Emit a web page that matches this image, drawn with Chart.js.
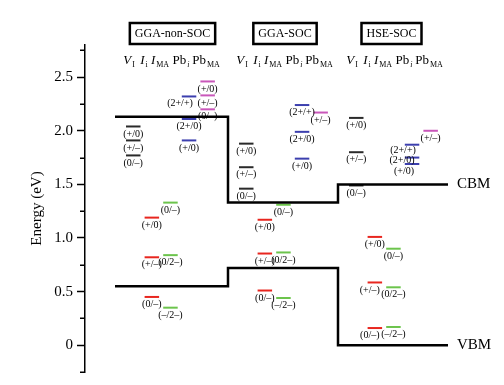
<!DOCTYPE html>
<html>
<head>
<meta charset="utf-8">
<script src="https://cdn.jsdelivr.net/npm/chart.js@4.4.1/dist/chart.umd.min.js"></script>
<style>
  html, body { margin: 0; padding: 0; background: #fff; }
</style>
</head>
<body>
<canvas id="grafica_niveles" width="504" height="385"></canvas>
<script>
const paneles = ['GGA-non-SOC', 'GGA-SOC', 'HSE-SOC'];
const cbm = [2.13, 1.33, 1.50];
const vbm = [0.55, 0.72, 0.00];
const ticksEnergia = [0, 0.5, 1.0, 1.5, 2.0, 2.5];

// niveles de transicion (eV), una lista por panel
const nivelesVI   = [[2.04, 1.91, 1.77], [1.88, 1.66, 1.46], [2.12, 1.80, 1.49]];
const nivelesIi   = [[1.19, 0.82, 0.45], [1.17, 0.855, 0.51], [1.01, 0.585, 0.16]];
const nivelesIMA  = [[1.33, 0.84, 0.35], [1.31, 0.865, 0.44], [0.90, 0.54, 0.17]];
const nivelesPbi  = [[2.32, 2.11, 1.91], [2.24, 1.99, 1.74], [1.87, 1.75, 1.69]];
const nivelesPbMA = [[2.46, 2.33, 2.20], [2.17], [2.00]];

const etiquetasVI   = ['(+/0)', '(+/–)', '(0/–)'];
const etiquetasIi   = ['(+/0)', '(+/–)', '(0/–)'];
const etiquetasIMA  = ['(0/–)', '(0/2–)', '(–/2–)'];
const etiquetasPbi  = ['(2+/+)', '(2+/0)', '(+/0)'];
const etiquetasPbMA = [['(+/0)', '(+/–)', '(0/–)'], ['(+/–)'], ['(+/–)']];

// cabeceras: [principal, subindice, principal cursiva, subindice cursiva]
const defectos = [['V', 'I', true, false], ['I', 'i', true, false], ['I', 'MA', true, false],
                  ['Pb', 'i', false, true], ['Pb', 'MA', false, false]];

// ---- layout (unidades de panel) ----
const UNIDAD = 111;
const bordesPanel = [0, 1.018, 2.009, 3.0];
const colores = ['#2a2a2a', '#e8261f', '#6cc44c', '#3c3fae', '#c957ba'];
const SERIF = '"Liberation Serif", "DejaVu Serif", serif';
const ajustes = {
  '0-3-0': [-9, 7],
  '2-3-0': [-9, 6], '2-3-1': [-10, 2.5], '2-3-2': [-8, 7],
  '2-1-1': [-5, 7.5], '2-1-2': [-5, 7.5]
};

function inicioColumna(p, d) { return bordesPanel[p] + (11 + 18.6 * d) / UNIDAD; }
function centroColumna(p, d) { return inicioColumna(p, d) + 7.2 / UNIDAD; }
function centroCabecera(p, d) { return bordesPanel[p] + [14, 29, 45, 66, 91][d] / UNIDAD; }

const todosNiveles = [nivelesVI, nivelesIi, nivelesIMA, nivelesPbi, nivelesPbMA];
function etiquetasDe(d, p) {
  return [etiquetasVI, etiquetasIi, etiquetasIMA, etiquetasPbi][d] || etiquetasPbMA[p];
}

const datasets = [];
function escalon(valores) {
  const pts = [];
  valores.forEach((v, p) => {
    pts.push({ x: bordesPanel[p], y: v });
    pts.push({ x: bordesPanel[p + 1], y: v });
  });
  return pts;
}
datasets.push({ data: escalon(cbm), borderColor: '#000', borderWidth: 2.5 });
datasets.push({ data: escalon(vbm), borderColor: '#000', borderWidth: 2.5 });

todosNiveles.forEach((niv, d) => {
  niv.forEach((lista, p) => {
    lista.forEach((e) => {
      const x0 = inicioColumna(p, d);
      datasets.push({
        data: [{ x: x0, y: e }, { x: x0 + 14.5 / UNIDAD, y: e }],
        borderColor: colores[d],
        borderWidth: 2
      });
    });
  });
});

const pluginTextos = {
  id: 'textos',
  afterDraw(chart) {
    const ctx = chart.ctx;
    const xs = chart.scales.x, ys = chart.scales.y;
    ctx.save();

    // ticks menores
    ctx.strokeStyle = '#000';
    ctx.lineWidth = 1.5;
    for (let v = -0.25; v < 2.8; v += 0.5) {
      const py = Math.round(ys.getPixelForValue(v)) + 0.25;
      ctx.beginPath();
      ctx.moveTo(ys.right - 5, py);
      ctx.lineTo(ys.right, py);
      ctx.stroke();
    }

    // etiquetas de niveles
    ctx.fillStyle = '#000';
    ctx.font = '10px ' + SERIF;
    ctx.textAlign = 'center';
    ctx.textBaseline = 'middle';
    todosNiveles.forEach((niv, d) => {
      niv.forEach((lista, p) => {
        const etq = etiquetasDe(d, p);
        lista.forEach((e, k) => {
          const aj = ajustes[p + '-' + d + '-' + k] || [0, 7.5];
          const px = xs.getPixelForValue(centroColumna(p, d)) + aj[0];
          const py = ys.getPixelForValue(e) + aj[1];
          ctx.fillText(etq[k], px, py);
        });
      });
    });

    // titulos de panel con recuadro
    ctx.font = '12px ' + SERIF;
    paneles.forEach((t, p) => {
      const cx = xs.getPixelForValue(bordesPanel[p] + [57.5, 57, 53.5][p] / UNIDAD);
      const w = ctx.measureText(t).width + 10;
      ctx.lineWidth = 2.5;
      ctx.strokeRect(cx - w / 2, 23, w, 21);
      ctx.fillText(t, cx, 34);
    });

    // cabeceras de defectos
    ctx.textAlign = 'left';
    ctx.textBaseline = 'alphabetic';
    paneles.forEach((t, p) => {
      defectos.forEach((df, d) => {
        const fPrin = (df[2] ? 'italic ' : '') + '13px ' + SERIF;
        const fSub = (df[3] ? 'italic ' : '') + '8px ' + SERIF;
        ctx.font = fPrin;
        const w1 = ctx.measureText(df[0]).width;
        ctx.font = fSub;
        const w2 = ctx.measureText(df[1]).width;
        const x0 = xs.getPixelForValue(centroCabecera(p, d)) - (w1 + w2 + 1) / 2;
        ctx.font = fPrin;
        ctx.fillText(df[0], x0, 64);
        ctx.font = fSub;
        ctx.fillText(df[1], x0 + w1 + 1, 67);
      });
    });

    // CBM / VBM
    ctx.font = '15px ' + SERIF;
    ctx.textBaseline = 'middle';
    const xf = xs.getPixelForValue(bordesPanel[3]) + 9;
    ctx.fillText('CBM', xf, ys.getPixelForValue(cbm[2]));
    ctx.fillText('VBM', xf, ys.getPixelForValue(vbm[2]));
    ctx.restore();
  }
};

const ctx = document.getElementById('grafica_niveles').getContext('2d');
new Chart(ctx, {
  type: 'scatter',
  data: { datasets: datasets.map(ds => Object.assign(ds, { showLine: true, pointRadius: 0, fill: false })) },
  plugins: [pluginTextos],
  options: {
    responsive: false,
    animation: false,
    devicePixelRatio: 1,
    layout: { padding: { top: 45, bottom: 12, left: 0, right: 0 } },
    scales: {
      x: { type: 'linear', display: false, min: -30 / UNIDAD, max: 389 / UNIDAD },
      y: {
        type: 'linear',
        min: -0.25,
        max: 2.8,
        afterFit: (scale) => { scale.width = 85; },
        afterBuildTicks: (scale) => { scale.ticks = ticksEnergia.map(v => ({ value: v })); },
        ticks: {
          padding: 4,
          color: '#000',
          font: { family: SERIF, size: 15 },
          callback: (v) => v === 0 ? '0' : v.toFixed(1)
        },
        grid: { drawOnChartArea: false, tickLength: 8, tickWidth: 1.5, tickColor: '#000' },
        border: { display: true, color: '#000', width: 1.5 },
        title: {
          display: true,
          text: 'Energy (eV)',
          color: '#000',
          font: { family: SERIF, size: 15 },
          padding: { top: 28, bottom: 0 }
        }
      }
    },
    plugins: { legend: { display: false }, tooltip: { enabled: false } }
  }
});
</script>
</body>
</html>
